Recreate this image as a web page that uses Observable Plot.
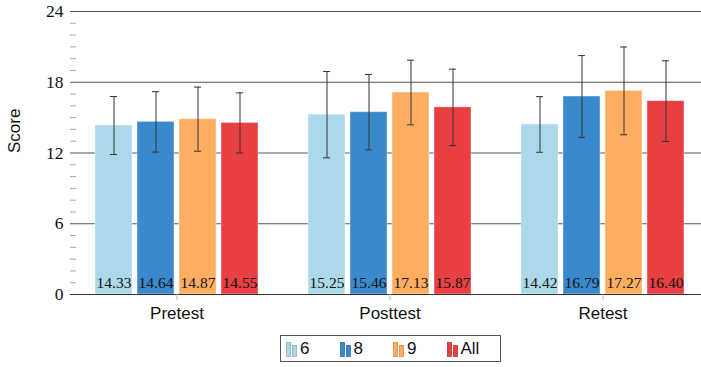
<!DOCTYPE html>
<html><head><meta charset="utf-8">
<script src="https://cdn.jsdelivr.net/npm/d3@7"></script>
<script src="https://cdn.jsdelivr.net/npm/@observablehq/plot@0.6"></script>
<style>
body{margin:0;background:#fff;}
#wrap{position:relative;width:701px;height:367px;overflow:hidden;}
.legend{position:absolute;left:280px;top:335px;width:219px;height:25px;border:1px solid #555;display:flex;align-items:center;font-family:"Liberation Sans",Arial,sans-serif;font-size:17px;color:#111;box-sizing:content-box;}
.item{display:flex;align-items:center;width:56px;}
.item svg{display:block;margin-right:3px;}
.first{margin-left:5px;}
</style></head><body><div id="wrap"></div>
<script>
const groups = ["Pretest", "Posttest", "Retest"];
const series = ["6", "8", "9", "All"];
const means = [
  [14.33, 14.64, 14.87, 14.55],
  [15.25, 15.46, 17.13, 15.87],
  [14.42, 16.79, 17.27, 16.40]
];
const errors = [
  [2.46, 2.56, 2.72, 2.55],
  [3.66, 3.20, 2.74, 3.24],
  [2.36, 3.47, 3.72, 3.42]
];
const colors = ["#abd9e9", "#3a89cc", "#fdae61", "#e83f42"];
const yTicks = [0, 6, 12, 18, 24];
const minorTicks = [1, 2, 3, 4, 5, 7, 8, 9, 10, 11, 13, 14, 15, 16, 17, 19, 20, 21, 22, 23];

const serif = "'Liberation Serif', 'DejaVu Serif', serif";
const sans = "'Liberation Sans', Arial, sans-serif";

const data = groups.flatMap((g, i) => series.map((s, j) => ({
  group: g, series: s, value: means[i][j], err: errors[i][j]
})));

const chart = Plot.plot({
  width: 701, height: 332,
  marginLeft: 70, marginRight: 0, marginTop: 11, marginBottom: 38,
  style: {background: "white", overflow: "hidden"},
  fx: {domain: groups, range: [70, 709], padding: 0, label: null},
  x: {domain: series, paddingInner: 0.116, paddingOuter: 0.535, axis: null},
  y: {domain: [0, 24], range: [294, 11]},
  color: {domain: series, range: colors},
  marks: [
    Plot.ruleY([6, 18, 24], {stroke: "#555"}),
    Plot.ruleY([12], {stroke: "#8c8c8c", strokeWidth: 1.6}),
    Plot.barY(data, {fx: "group", x: "series", y: "value", fill: "series", stroke: "#fff", strokeOpacity: 0.4}),
    Plot.ruleX(data, {fx: "group", x: "series", y1: d => d.value - d.err, y2: d => d.value + d.err, stroke: "#333"}),
    Plot.tickY(data, {fx: "group", x: "series", y: d => d.value + d.err, insetLeft: 15, insetRight: 15, stroke: "#333"}),
    Plot.tickY(data, {fx: "group", x: "series", y: d => d.value - d.err, insetLeft: 15, insetRight: 15, stroke: "#333"}),
    Plot.text(data, {fx: "group", x: "series", y: 0, text: d => d.value.toFixed(2), dy: -11, fontSize: 15.5, fontFamily: serif, fill: "#111"}),
    Plot.ruleY([0], {stroke: "#333"}),
    Plot.axisY({ticks: yTicks, tickSize: 0, tickPadding: 7, fontSize: 17.5, fontFamily: serif, label: null, color: "#111"}),
    Plot.axisY({ticks: minorTicks, tickSize: -6, tickFormat: () => "", stroke: "#aaa", label: null}),
    Plot.axisFx({anchor: "bottom", tickSize: 6, tickPadding: 6, fontSize: 17, fontFamily: sans, stroke: "#bbb", label: null, color: "#111"}),
    Plot.text(["Score"], {fx: () => "Pretest", frameAnchor: "left", rotate: -90, dx: -56, fontSize: 17, fontFamily: sans, fill: "#111"})
  ]
});

const wrap = document.getElementById("wrap");
wrap.appendChild(chart);

const legend = document.createElement("div");
legend.className = "legend";
series.forEach((s, i) => {
  const item = document.createElement("div");
  item.className = "item" + (i === 0 ? " first" : "");
  const c = d3.color(colors[i]).darker(0.6);
  item.innerHTML = `<svg width="11" height="16"><rect x="0.5" y="1.5" width="4" height="14" fill="${colors[i]}" stroke="${c}" stroke-width="0.8"/><rect x="6.5" y="4.5" width="4" height="11" fill="${colors[i]}" stroke="${c}" stroke-width="0.8"/></svg><span>${s}</span>`;
  legend.appendChild(item);
});
wrap.appendChild(legend);
</script>
</body></html>
